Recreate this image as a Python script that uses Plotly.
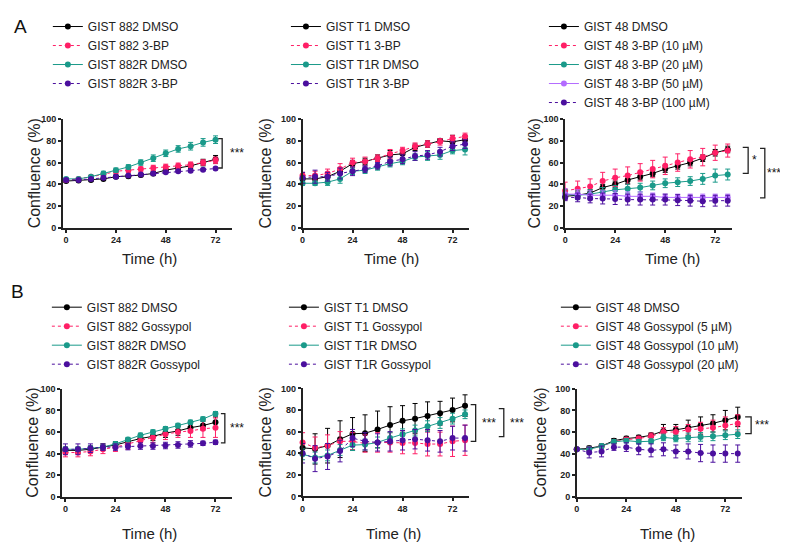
import plotly.graph_objects as go

# the page body keeps its default 8 px margin, so the figure is shrunk to fit inside it
W, H = 788, 551
OFF = 8
FW, FH = W - 2 * OFF, H - 2 * OFF

BLACK = "#000000"
PINK = "#ff1f66"
TEAL = "#1a9a8a"
PURPLE = "#4b0f9e"
LILAC = "#b36bff"

hours13 = [0, 6, 12, 18, 24, 30, 36, 42, 48, 54, 60, 66, 72]
hours14 = [0, 6, 12, 18, 24, 30, 36, 42, 48, 54, 60, 66, 72, 78]

# ---- A, left: GIST 882 / 3-BP
a1_882_dmso = [43, 43.5, 44, 45, 47, 47.5, 48.5, 50, 53, 55, 57, 60, 63]
a1_882_dmso_sd = [1, 1, 1, 1, 1.5, 1.5, 1.5, 2, 2, 2, 2.5, 3, 3.5]
a1_882_3bp = [44, 45, 47, 49, 52, 53, 54, 55, 56, 57, 58, 60, 62]
a1_882_3bp_sd = [1, 1, 1, 1.5, 2, 2, 2, 2.5, 2.5, 2.5, 2.5, 2.5, 3]
a1_882r_dmso = [45, 45, 47, 50, 53, 56, 60, 64, 68.5, 72.5, 75, 78.5, 81]
a1_882r_dmso_sd = [1, 1, 1, 2, 2, 2, 2.5, 3, 3, 3, 3.5, 3.5, 3.5]
a1_882r_3bp = [44, 44, 45, 46, 47, 48, 49, 50, 51, 52, 52.5, 53.5, 54.5]
a1_882r_3bp_sd = [1, 1, 1, 1, 1, 1, 1, 1, 1, 1, 1, 1, 1]

# ---- A, middle: GIST T1 / 3-BP
a2_t1_dmso = [45, 45, 47, 52, 59, 61, 64, 67, 68, 74, 77, 80, 79, 81]
a2_t1_dmso_sd = [3, 3, 3, 3, 3, 3, 3, 4, 4, 3, 3, 2, 6, 4]
a2_t1_3bp = [48, 48, 50, 54, 60, 61, 64, 68, 71, 75, 77, 79, 82, 84]
a2_t1_3bp_sd = [3, 4, 4, 5, 4, 4, 3, 4, 3, 3, 3, 3, 3, 3]
a2_t1r_dmso = [41, 41, 42, 45, 52, 53, 56, 59, 61, 65, 66, 67, 71, 72]
a2_t1r_dmso_sd = [2, 2, 3, 4, 3, 3, 3, 3, 3, 3, 4, 4, 3, 5]
a2_t1r_3bp = [46, 47, 47, 50, 52, 54, 57, 61, 63, 66, 67, 70, 75, 77]
a2_t1r_3bp_sd = [5, 6, 4, 5, 4, 3, 3, 4, 4, 4, 4, 4, 4, 4]

# ---- A, right: GIST 48 / 3-BP doses
a3_dmso = [29, 30, 32, 37, 40, 44, 47, 50, 54, 57, 60, 64, 69, 72]
a3_dmso_sd = [3, 3, 3, 3, 3, 3, 3, 3, 3, 3, 3, 3, 3, 3]
a3_10 = [34, 36, 38, 43, 46, 48, 51, 54, 57, 60, 63, 65, 69, 71]
a3_10_sd = [8, 7, 7, 8, 8, 8, 8, 8, 8, 8, 8, 8, 7, 6]
a3_20 = [31, 30, 31, 33, 35, 36, 37, 39, 41, 42, 43, 45, 48, 49]
a3_20_sd = [4, 4, 4, 4, 4, 4, 4, 4, 4, 4, 4, 5, 6, 5]
a3_50 = [31, 31, 30, 30, 30, 29, 29, 29, 28, 28, 28, 28, 28, 28]
a3_50_sd = [5, 4, 4, 4, 4, 4, 4, 3, 3, 3, 3, 3, 3, 3]
a3_100 = [28, 28, 27, 27, 26.5, 26, 26, 26, 26, 25.5, 25, 24.5, 25, 25]
a3_100_sd = [3, 4, 4, 5, 5, 5, 5, 5, 5, 5, 5, 5, 5, 5]

# ---- B, left: GIST 882 / Gossypol
b1_882_dmso = [43, 43, 44, 46, 48, 51, 54, 56, 59, 61, 64, 66, 69]
b1_882_dmso_sd = [3, 3, 3, 3, 3, 3, 3, 4, 4, 4, 4, 4, 5]
b1_882_gos = [41, 41, 42, 44, 46, 49, 52, 55, 58, 60, 61, 63, 64]
b1_882_gos_sd = [4, 4, 4, 4, 4, 5, 5, 5, 5, 5, 6, 8, 9]
b1_882r_dmso = [44, 44, 45, 46, 49, 53, 57, 60, 63, 66, 69, 72, 77]
b1_882r_dmso_sd = [2, 2, 2, 2, 2, 2, 2, 2, 2, 2, 2, 2, 2]
b1_882r_gos = [44, 44, 45, 46, 46, 46.5, 47, 47, 47.5, 48, 49, 49.5, 50.5]
b1_882r_gos_sd = [5, 5, 4, 3, 3, 3, 3, 3, 3, 3, 3, 2, 2]

# ---- B, middle: GIST T1 / Gossypol
b2_t1_dmso = [45, 44, 47, 53, 58, 58.5, 62, 66, 70, 72, 74.5, 77, 80, 84]
b2_t1_dmso_sd = [5, 14, 16, 17, 15, 17, 17, 17, 14, 14, 13, 11, 11, 10]
b2_t1_gos = [50, 45, 47, 51, 51, 49, 50, 50, 49.5, 49.5, 48.5, 48.5, 51, 52]
b2_t1_gos_sd = [9, 10, 10, 9, 8, 8, 9, 9, 10, 10, 11, 11, 14, 14]
b2_t1r_dmso = [39, 36, 38, 43, 47.5, 48, 50, 54, 57.5, 61, 65, 68, 72, 76]
b2_t1r_dmso_sd = [5, 5, 5, 5, 5, 5, 5, 5, 5, 5, 5, 5, 5, 4]
b2_t1r_gos = [40, 35, 37, 42, 54, 51, 50, 51, 52, 53, 52, 51, 54, 54]
b2_t1r_gos_sd = [9, 12, 12, 10, 8, 8, 8, 9, 9, 9, 10, 10, 11, 12]

# ---- B, right: GIST 48 / Gossypol doses
b3_dmso = [44, 45, 47, 52, 54, 55, 57, 61, 62, 64, 66, 68, 71, 74]
b3_dmso_sd = [1, 2, 2, 2, 2, 2, 2, 6, 5, 7, 8, 8, 9, 9]
b3_5 = [44, 44, 47, 51, 53, 54, 56, 60, 60, 62, 63, 64, 66, 68]
b3_5_sd = [1, 2, 2, 2, 2, 2, 3, 4, 5, 5, 6, 7, 8, 8]
b3_10 = [44, 44, 47, 51, 52, 51, 51.5, 55, 54, 55, 55.5, 56, 57, 58]
b3_10_sd = [1, 2, 2, 2, 2, 2, 2, 3, 3, 4, 4, 4, 4, 4]
b3_20 = [44, 41, 42, 46, 46, 44, 43, 44, 42, 42, 40.5, 40, 40, 40]
b3_20_sd = [1, 5, 5, 3, 4, 5, 6, 6, 6, 7, 8, 8, 8, 8]


def px_x(p):
    return (p - OFF) / FW


def px_y(p):
    return 1 - (p - OFF) / FH


# dom = plot box in page pixels (left, right, top, bottom)
panels = [
    dict(x=hours13, dom=(60, 230, 116, 227), xr=-1.6, leg=(45, 7), yt=32, xt=(147, 258),
         series=[("GIST 882 DMSO", a1_882_dmso, a1_882_dmso_sd, BLACK, "solid"),
                 ("GIST 882 3-BP", a1_882_3bp, a1_882_3bp_sd, PINK, "dot"),
                 ("GIST 882R DMSO", a1_882r_dmso, a1_882r_dmso_sd, TEAL, "solid"),
                 ("GIST 882R 3-BP", a1_882r_3bp, a1_882r_3bp_sd, PURPLE, "dot")],
         brackets=[(73.3, 75.2, 82, 55, "***", 82.4)]),
    dict(x=hours14, dom=(300.7, 468, 116, 227), xr=0, leg=(284, 7), yt=263, xt=(390, 258),
         series=[("GIST T1 DMSO", a2_t1_dmso, a2_t1_dmso_sd, BLACK, "solid"),
                 ("GIST T1 3-BP", a2_t1_3bp, a2_t1_3bp_sd, PINK, "dot"),
                 ("GIST T1R DMSO", a2_t1r_dmso, a2_t1r_dmso_sd, TEAL, "solid"),
                 ("GIST T1R 3-BP", a2_t1r_3bp, a2_t1r_3bp_sd, PURPLE, "dot")],
         brackets=[]),
    dict(x=hours14, dom=(564.3, 731.7, 116, 227), xr=0, leg=(543, 7), yt=533, xt=(672, 258),
         series=[("GIST 48 DMSO", a3_dmso, a3_dmso_sd, BLACK, "solid"),
                 ("GIST 48 3-BP (10 µM)", a3_10, a3_10_sd, PINK, "dot"),
                 ("GIST 48 3-BP (20 µM)", a3_20, a3_20_sd, TEAL, "solid"),
                 ("GIST 48 3-BP (50 µM)", a3_50, a3_50_sd, LILAC, "solid"),
                 ("GIST 48 3-BP (100 µM)", a3_100, a3_100_sd, PURPLE, "dot")],
         brackets=[(85.2, 87.8, 74, 50, "*", 91), (93.5, 95.8, 73, 27.5, "***", 100)]),
    dict(x=hours13, dom=(59.3, 230, 391, 501), xr=-1.6, leg=(44, 293), yt=30, xt=(147, 538),
         series=[("GIST 882 DMSO", b1_882_dmso, b1_882_dmso_sd, BLACK, "solid"),
                 ("GIST 882 Gossypol", b1_882_gos, b1_882_gos_sd, PINK, "dot"),
                 ("GIST 882R DMSO", b1_882r_dmso, b1_882r_dmso_sd, TEAL, "solid"),
                 ("GIST 882R Gossypol", b1_882r_gos, b1_882r_gos_sd, PURPLE, "dot")],
         brackets=[(74.6, 76.5, 77, 50, "***", 82.5)]),
    dict(x=hours14, dom=(300.7, 468, 390.5, 500.7), xr=0, leg=(282, 293), yt=263, xt=(392, 538),
         series=[("GIST T1 DMSO", b2_t1_dmso, b2_t1_dmso_sd, BLACK, "solid"),
                 ("GIST T1 Gossypol", b2_t1_gos, b2_t1_gos_sd, PINK, "dot"),
                 ("GIST T1R DMSO", b2_t1r_dmso, b2_t1r_dmso_sd, TEAL, "solid"),
                 ("GIST T1R Gossypol", b2_t1r_gos, b2_t1r_gos_sd, PURPLE, "dot")],
         brackets=[(80.7, 83.1, 85, 51, "***", 89.5), (94.2, 96.6, 81.3, 55.4, "***", 103)]),
    dict(x=hours14, dom=(576, 741.7, 391, 501), xr=0, leg=(555, 293), yt=540, xt=(667, 538),
         series=[("GIST 48 DMSO", b3_dmso, b3_dmso_sd, BLACK, "solid"),
                 ("GIST 48 Gossypol (5 µM)", b3_5, b3_5_sd, PINK, "dot"),
                 ("GIST 48 Gossypol (10 µM)", b3_10, b3_10_sd, TEAL, "solid"),
                 ("GIST 48 Gossypol (20 µM)", b3_20, b3_20_sd, PURPLE, "dot")],
         brackets=[(81.6, 84.5, 74, 58.5, "***", 90)]),
]

XMAX = 80
FONT = "Liberation Sans, Arial, sans-serif"
fig = go.Figure()
layout = dict(width=FW, height=FH, margin=dict(l=0, r=0, t=0, b=0),
              paper_bgcolor="white", plot_bgcolor="white",
              font=dict(family=FONT, color="#222"), showlegend=True)
annotations = []
shapes = []

for i, p in enumerate(panels, start=1):
    sfx = "" if i == 1 else str(i)
    xa, ya = "x" + sfx, "y" + sfx
    leg = "legend" + sfx
    x0, x1, yt, yb = p["dom"]

    # significance brackets sit outside the axis range, so place them in paper units
    def dx(v, x0=x0, x1=x1, xr=p["xr"]):
        return px_x(x0 + (v - xr) / (XMAX - xr) * (x1 - x0))

    def dy(v, yt=yt, yb=yb):
        return px_y(yb - v / 100 * (yb - yt))

    for name, vals, sd, color, dash in p["series"]:
        fig.add_trace(go.Scatter(
            x=p["x"], y=vals, name=name, mode="lines+markers",
            xaxis=xa, yaxis=ya, legend=leg, cliponaxis=False,
            line=dict(color=color, width=1, dash=dash),
            marker=dict(color=color, size=6),
            error_y=dict(type="data", array=sd, color=color, thickness=1, width=2.5)))
    axis_common = dict(showline=True, linecolor="#222", linewidth=1.5, showgrid=False, zeroline=False,
                       ticks="outside", ticklen=3, tickwidth=1.5, tickcolor="#222",
                       tickfont=dict(family=FONT, size=9, color="#222", weight="bold"))
    layout["xaxis" + sfx] = dict(axis_common, domain=[px_x(x0), px_x(x1)], range=[p["xr"], XMAX],
                                 tickvals=[0, 24, 48, 72], anchor=ya)
    layout["yaxis" + sfx] = dict(axis_common, domain=[px_y(yb), px_y(yt)], range=[0, 100],
                                 tickvals=[0, 20, 40, 60, 80, 100], anchor=xa)
    layout[leg] = dict(x=px_x(p["leg"][0]), y=px_y(p["leg"][1]), xanchor="left", yanchor="top",
                       bgcolor="rgba(0,0,0,0)", font=dict(family=FONT, size=12, color="#222"),
                       itemwidth=30, tracegroupgap=0)
    annotations.append(dict(text="Confluence (%)", textangle=-90, xref="paper", yref="paper",
                            x=px_x(p["yt"]), y=px_y((yt + yb) / 2), xanchor="center", yanchor="middle",
                            showarrow=False, font=dict(family=FONT, size=16, color="#222")))
    annotations.append(dict(text="Time (h)", xref="paper", yref="paper",
                            x=px_x(p["xt"][0]), y=px_y(p["xt"][1]), xanchor="center", yanchor="middle",
                            showarrow=False, font=dict(family=FONT, size=15, color="#222")))
    for bx0, bx1, by0, by1, label, lx in p["brackets"]:
        shapes.append(dict(type="path", xref="paper", yref="paper",
                           path=(f"M {dx(bx0)},{dy(by0)} L {dx(bx1)},{dy(by0)} "
                                 f"L {dx(bx1)},{dy(by1)} L {dx(bx0)},{dy(by1)}"),
                           line=dict(color="#222", width=1.3)))
        annotations.append(dict(text=label, xref="paper", yref="paper", x=dx(lx), y=dy((by0 + by1) / 2),
                                xanchor="center", yanchor="middle",
                                showarrow=False, font=dict(family=FONT, size=12, color="#111")))

for letter, lx, ly in [("A", 18, 22), ("B", 15, 292)]:
    annotations.append(dict(text=letter, xref="paper", yref="paper", x=px_x(lx), y=px_y(ly),
                            xanchor="center", yanchor="middle", showarrow=False,
                            font=dict(family=FONT, size=19, color="#111")))

layout["annotations"] = annotations
layout["shapes"] = shapes
fig.update_layout(**layout)
fig.write_html("out.html")
